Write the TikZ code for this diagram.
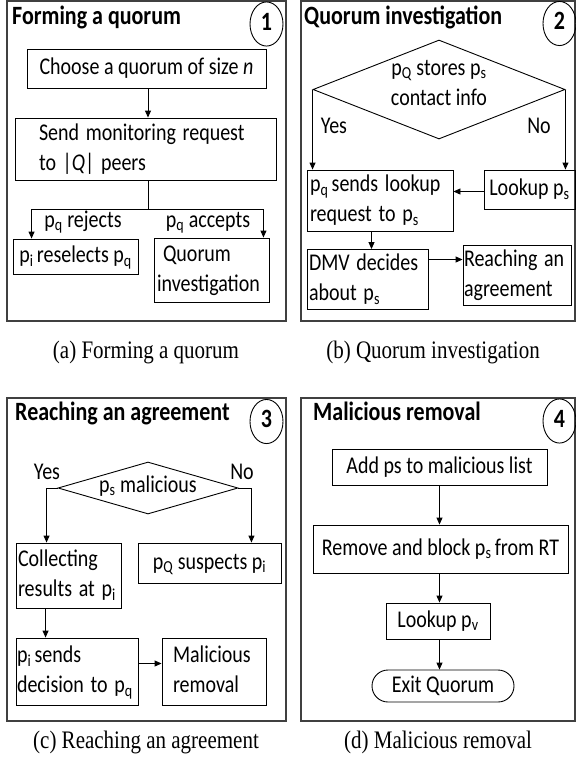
\documentclass[tikz,border=0pt]{standalone}
\usepackage{graphicx}
\usepackage{fontspec}
\setmainfont{Carlito}
\newfontfamily\capfont{Liberation Serif}
\usetikzlibrary{arrows.meta,shapes.geometric,calc}
\newcommand{\bodyfs}{\fontsize{20}{25}\selectfont}
\newcommand{\ttlfs}{\bfseries\fontsize{22}{26}\selectfont}
\newcommand{\vl}[1]{\scalebox{1}[1.2]{\begin{tabular}{@{}l@{}}#1\end{tabular}}}
\newcommand{\vc}[1]{\scalebox{1}[1.2]{\begin{tabular}{@{}c@{}}#1\end{tabular}}}
\begin{document}
\begin{tikzpicture}[x=1pt,y=-1pt,
 panel/.style={draw=black!75, line width=1.3pt},
 box/.style={draw, line width=0.9pt, rectangle, inner sep=0pt, font=\bodyfs},
 lbox/.style={box, align=left, text width=#1},
 dia/.style={draw, line width=0.9pt, diamond, inner sep=0pt},
 ttl/.style={anchor=west, inner sep=0pt, font=\ttlfs},
 num/.style={draw, ellipse, line width=0.9pt, minimum width=33pt, minimum height=37pt, inner sep=0pt, font=\ttlfs},
 lbl/.style={font=\bodyfs, inner sep=0pt},
 captxt/.style={font=\capfont\fontsize{21}{25}\selectfont, inner sep=0pt},
 arr/.style={-{Triangle[length=7pt,width=6pt]}, line width=0.9pt},
 ln/.style={line width=0.9pt}]
\useasboundingbox (0,0) rectangle (576,764);

% ---------- panel a ----------
\draw[panel] (7,1) rectangle (286,321);
\node[ttl] (ta) at (12,18) {\vl{Forming a quorum}};
\node[num] (na) at (266.5,24) {\vc{1}};
\node[box, minimum width=239pt, minimum height=39pt] (a1) at (146.5,68.5) {\vc{Choose a quorum of size \textit{n}}};
\node[lbox=213pt, minimum width=261pt, minimum height=62pt] (a2) at (145.5,149) {\vl{Send monitoring request\\to |\textit{Q}| peers}};
\node[box, minimum width=125pt, minimum height=35pt] (a3) at (75.5,256.5) {\vc{p\textsubscript{i}\,reselects p\textsubscript{q}}};
\node[lbox=109pt, minimum width=115pt, minimum height=64pt] (a4) at (211.5,270) {\vl{\hspace*{6pt}Quorum\\investigation}};
\coordinate (ja) at (148,209);
\draw[ln] (ja |- a2.south) -- (ja);
\draw[arr] (ja) -| ($(a3.north west)+(19,0)$);
\draw[arr] (ja) -| ($(a4.north east)+(-6,0)$);
\draw[arr] (a1.south -| ja) -- (ja |- a2.north);
\node[lbl] (la1) at (83,221) {\vc{p\textsubscript{q} rejects}};
\node[lbl] (la2) at (208,221) {\vc{p\textsubscript{q} accepts}};
\node[captxt] (ca) at (146,352) {\vc{(a) Forming a quorum}};

% ---------- panel b ----------
\draw[panel] (301,1) rectangle (575,321);
\node[ttl] (tb) at (304,18) {\vl{Quorum investigation}};
\node[num] (nb) at (559.5,23.5) {\vc{2}};
\node[dia, minimum width=252pt, minimum height=99pt] (b1) at (439,89.5) {};
\node[lbl] (b1t) at (439,84) {\vc{p\textsubscript{Q} stores p\textsubscript{s}\\contact info}};
\node[lbl] (yb) at (334,127) {\vc{Yes}};
\node[lbl] (nob) at (539,127) {\vc{No}};
\node[lbox=140pt, minimum width=146pt, minimum height=61pt] (b2) at (380,200.5) {\vl{p\textsubscript{q}\,sends lookup\\request to p\textsubscript{s}}};
\node[box, minimum width=91pt, minimum height=39pt] (b3) at (529.5,189.5) {\vc{Lookup p\textsubscript{s}}};
\node[lbox=117pt, minimum width=121pt, minimum height=55pt] (b4) at (367.5,279.5) {\vl{DMV decides\\about p\textsubscript{s}}};
\node[lbox=106pt, minimum width=108pt, minimum height=60pt] (b5) at (517,275) {\vl{Reaching an\\agreement}};
\draw[arr] (b1.west) -- (b1.west |- b2.north);
\draw[arr] (b1.east) -- (b1.east |- b3.north);
\draw[arr] ([yshift=-2pt]b3.west) -- ([yshift=-2pt]b3.west -| b2.east);
\draw[arr] ([xshift=4pt]b4.north |- b2.south) -- ([xshift=4pt]b4.north);
\draw[arr] ([yshift=20pt]b4.east) -- ([yshift=20pt]b4.east -| b5.west);
\node[captxt] (cb) at (433,352) {\vc{(b) Quorum investigation}};

% ---------- panel c ----------
\draw[panel] (7,398) rectangle (286,721);
\node[ttl] (tc) at (15,414) {\vl{Reaching an agreement}};
\node[num] (nc) at (266.5,421.5) {\vc{3}};
\node[dia, minimum width=180pt, minimum height=52pt] (c1) at (148,488) {};
\node[lbl] (c1t) at (148,486) {\vc{p\textsubscript{s} malicious}};
\node[lbl] (yc) at (47,473) {\vc{Yes}};
\node[lbl] (noc) at (242,473) {\vc{No}};
\node[lbox=101pt, minimum width=105pt, minimum height=65pt] (c2) at (68.5,575.5) {\vl{Collecting\\results at p\textsubscript{i}}};
\node[box, minimum width=143pt, minimum height=40pt] (c3) at (209.5,563) {\vc{p\textsubscript{Q} suspects p\textsubscript{i}}};
\node[lbox=120pt, minimum width=122pt, minimum height=67pt] (c4) at (77,671.5) {\vl{p\textsubscript{i}\,sends\\decision to p\textsubscript{q}}};
\node[lbox=82pt, minimum width=104pt, minimum height=67pt] (c5) at (214,671.5) {\vl{Malicious\\removal}};
\draw[arr] (c1.west) -- ++(-11,0) coordinate (cl) -- (cl |- c2.north);
\draw[arr] (c1.east) -- ++(13,0) coordinate (cr) -- (cr |- c3.north);
\draw[arr] ([xshift=30pt]c2.south west) -- ([xshift=30pt]c2.south west |- c4.north);
\draw[arr] ([yshift=8pt]c4.east) -- ([yshift=8pt]c4.east -| c5.west);
\node[captxt] (cc) at (146,742) {\vc{(c) Reaching an agreement}};

% ---------- panel d ----------
\draw[panel] (301,398) rectangle (575,721);
\node[ttl] (td) at (313,414) {\vl{Malicious removal}};
\node[num] (nd) at (559.5,421) {\vc{4}};
\node[box, minimum width=215pt, minimum height=36pt] (d1) at (439.5,467) {\vc{Add ps to malicious list}};
\node[box, minimum width=255pt, minimum height=48pt] (d2) at (440.5,549) {\vc{Remove and block p\textsubscript{s}\,from RT}};
\node[box, minimum width=104pt, minimum height=36pt] (d3) at (438,621) {\vc{Lookup p\textsubscript{v}}};
\node[box, rounded corners=16pt, minimum width=142pt, minimum height=32pt] (d4) at (443,686) {\vc{Exit Quorum}};
\draw[arr] (d1.south) -- (d1.south |- d2.north);
\draw[arr] (d1.south |- d2.south) -- (d1.south |- d3.north);
\draw[arr] (d1.south |- d3.south) -- (d1.south |- d4.north);
\node[captxt] (cd) at (438,742) {\vc{(d) Malicious removal}};
\end{tikzpicture}
\end{document}
